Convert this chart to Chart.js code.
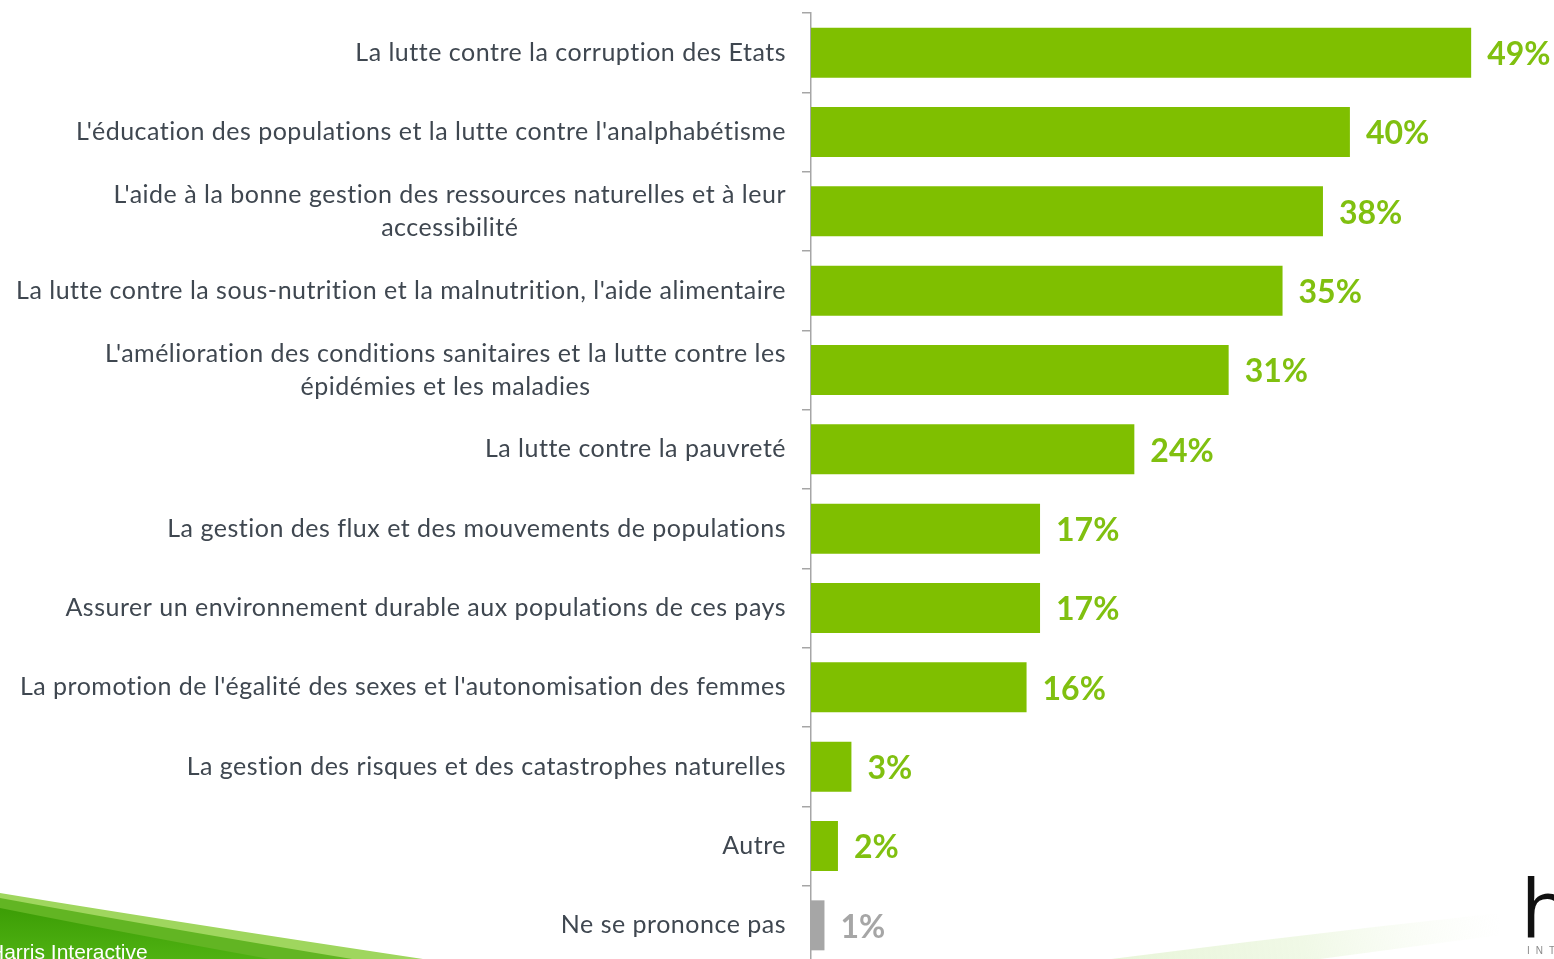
<!DOCTYPE html>
<html>
<head>
<meta charset="utf-8">
<script src="https://cdn.jsdelivr.net/npm/chart.js@4"></script>
<style>
  html, body { margin: 0; padding: 0; background: #fff; overflow: hidden; }
  #wrap { position: relative; width: 1554px; height: 975px; }
  #brand { position: absolute; left: -11px; top: 940px; font: 21px "Liberation Sans", Arial, sans-serif; color: #fff; white-space: nowrap; }
  #logo { position: absolute; left: 1521px; top: 858px; font: 400 80px "Open Sans", sans-serif; color: #111; line-height: 1.2; }
  #logo2 { position: absolute; left: 1527px; top: 945px; font: 10px "Liberation Sans", sans-serif; color: #8a8a8a; letter-spacing: 6px; }
</style>
</head>
<body>
<div id="wrap">
  <canvas id="c"></canvas>
  <div id="brand">Harris Interactive</div>
  <div id="logo">h</div>
  <div id="logo2">INT</div>
</div>
<script>
/* values, in %, top to bottom */
const CATEGORIES = [
  'La lutte contre la corruption des Etats',
  "L'éducation des populations et la lutte contre l'analphabétisme",
  ["L'aide à la bonne gestion des ressources naturelles et à leur", 'accessibilité'],
  "La lutte contre la sous-nutrition et la malnutrition, l'aide alimentaire",
  ["L'amélioration des conditions sanitaires et la lutte contre les", 'épidémies et les maladies'],
  'La lutte contre la pauvreté',
  'La gestion des flux et des mouvements de populations',
  'Assurer un environnement durable aux populations de ces pays',
  "La promotion de l'égalité des sexes et l'autonomisation des femmes",
  'La gestion des risques et des catastrophes naturelles',
  'Autre',
  'Ne se prononce pas',
];
const VALUES = [49, 40, 38, 35, 31, 24, 17, 17, 16, 3, 2, 1];
const NEUTRAL = ['Ne se prononce pas'];

const GREEN = '#7fbf00';
const GREY  = '#a6a6a6';
const isNeutral = (i) => NEUTRAL.includes(CATEGORIES[i]);

/* swoosh in the bottom corners, like the slide template */
const swoosh = {
  id: 'swoosh',
  beforeDraw(chart) {
    const ctx = chart.ctx;
    const H = 975;
    ctx.save();
    // faint right-hand streak
    let g = ctx.createLinearGradient(1000, 975, 1500, 900);
    g.addColorStop(0, 'rgba(215,238,190,0.7)');
    g.addColorStop(0.6, 'rgba(225,242,205,0.5)');
    g.addColorStop(1, 'rgba(240,248,230,0)');
    ctx.fillStyle = g;
    ctx.beginPath();
    ctx.moveTo(990, H);
    ctx.quadraticCurveTo(1250, 940, 1500, 913);
    ctx.lineTo(1500, 935);
    ctx.quadraticCurveTo(1350, 955, 1200, H);
    ctx.closePath();
    ctx.fill();
    // left: outer light band
    ctx.fillStyle = '#9fd65e';
    ctx.beginPath();
    ctx.moveTo(0, 893);
    ctx.quadraticCurveTo(200, 926, 530, H);
    ctx.lineTo(0, H);
    ctx.closePath();
    ctx.fill();
    // middle band
    ctx.fillStyle = '#62b523';
    ctx.beginPath();
    ctx.moveTo(0, 898);
    ctx.quadraticCurveTo(190, 933, 450, H);
    ctx.lineTo(0, H);
    ctx.closePath();
    ctx.fill();
    // dark core
    g = ctx.createLinearGradient(0, 905, 0, 975);
    g.addColorStop(0, '#3b9c05');
    g.addColorStop(1, '#55b816');
    ctx.fillStyle = g;
    ctx.beginPath();
    ctx.moveTo(0, 908);
    ctx.quadraticCurveTo(160, 940, 360, H);
    ctx.lineTo(0, H);
    ctx.closePath();
    ctx.fill();
    ctx.restore();
  }
};

/* category labels: right-aligned block, lines centred within the block */
const catLabels = {
  id: 'catLabels',
  afterDraw(chart) {
    const ctx = chart.ctx;
    const y = chart.scales.y;
    ctx.save();
    ctx.font = '25px Lato, sans-serif';
    ctx.letterSpacing = '0.5px';
    ctx.fillStyle = '#3f4750';
    ctx.textBaseline = 'middle';
    ctx.textAlign = 'center';
    const right = y.right - 25;
    CATEGORIES.forEach((lab, i) => {
      const lines = Array.isArray(lab) ? lab : [lab];
      const w = Math.max(...lines.map(l => ctx.measureText(l).width));
      const cx = right - w / 2;
      const cy = y.getPixelForValue(i);
      const lh = 33;
      lines.forEach((l, k) => {
        ctx.fillText(l, cx, cy + (k - (lines.length - 1) / 2) * lh);
      });
    });
    ctx.restore();
  }
};

/* value labels after each bar */
const valueLabels = {
  id: 'valueLabels',
  afterDatasetsDraw(chart) {
    const ctx = chart.ctx;
    const meta = chart.getDatasetMeta(0);
    ctx.save();
    ctx.font = 'bold 32px Lato, sans-serif';
    ctx.textBaseline = 'middle';
    ctx.textAlign = 'left';
    meta.data.forEach((bar, i) => {
      ctx.fillStyle = isNeutral(i) ? GREY : '#80c010';
      ctx.fillText(VALUES[i] + '%', bar.x + 16, bar.y + 2);
    });
    ctx.restore();
  }
};

const canvas = document.getElementById('c');
canvas.width = 1554;
canvas.height = 975;

new Chart(canvas, {
  type: 'bar',
  data: {
    labels: CATEGORIES,
    datasets: [{
      data: VALUES,
      backgroundColor: VALUES.map((_, i) => isNeutral(i) ? GREY : GREEN),
      barPercentage: 0.63,
      categoryPercentage: 1,
    }],
  },
  options: {
    indexAxis: 'y',
    responsive: false,
    animation: false,
    layout: { padding: { left: 802, right: 2, top: 13, bottom: 10 } },
    scales: {
      x: { display: false, min: 0, max: 55 },
      y: {
        grid: { drawOnChartArea: false, drawTicks: true, tickLength: 9, color: GREY, lineWidth: 1.5 },
        border: { color: GREY, width: 1.5 },
        ticks: { display: false },
      },
    },
    plugins: {
      legend: { display: false },
      tooltip: { enabled: false },
    },
  },
  plugins: [swoosh, catLabels, valueLabels],
});
</script>
</body>
</html>
